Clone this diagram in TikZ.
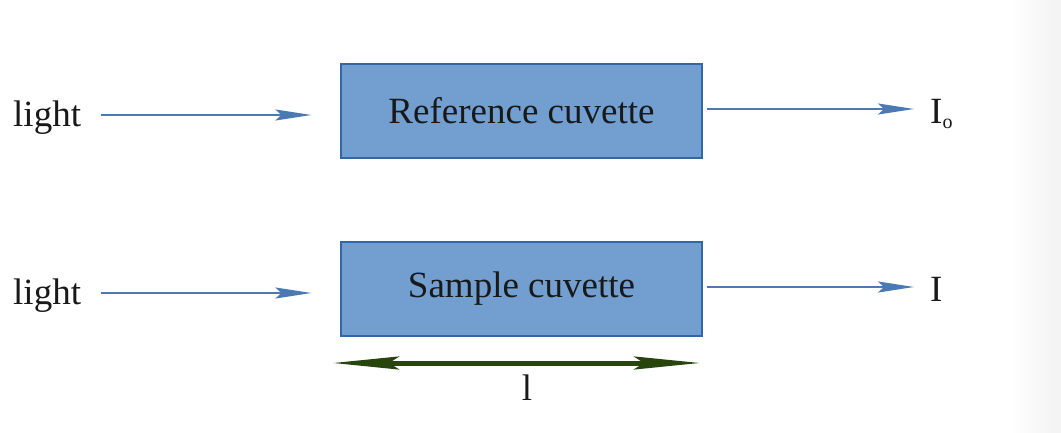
\documentclass[tikz,border=0pt]{standalone}
\usepackage{fontspec}
\setmainfont{Liberation Serif}
\usetikzlibrary{arrows.meta}
\definecolor{boxfill}{HTML}{729FCF}
\definecolor{boxline}{HTML}{3465A4}
\definecolor{arrblue}{HTML}{4A79B4}
\definecolor{lgreen}{HTML}{28450E}
\tikzset{
  box/.style={draw=boxline, line width=1.2pt, fill=boxfill, minimum width=361pt, minimum height=94pt, inner sep=0pt, font=\fontsize{37}{44}\selectfont, text=black!90},
  lbl/.style={inner sep=0pt, font=\fontsize{37}{44}\selectfont, text=black!90},
  beam/.style={draw=arrblue, line width=2pt, -{Stealth[length=36pt,width=11pt,inset=6pt]}},
  span/.style={draw=lgreen, line width=5pt, {Stealth[length=66pt,width=13pt,inset=10pt]}-{Stealth[length=66pt,width=13pt,inset=10pt]}}
}
\begin{document}
\begin{tikzpicture}[x=1pt,y=-1pt]
\useasboundingbox (0,0) rectangle (1061,433);
\shade[left color=white, right color=black!5] (1010,0) rectangle (1061,433);
\node[box] (ref) at (521.5,111) {Reference cuvette};
\node[box] (sam) at (521.5,289) {Sample cuvette};
\node[lbl, anchor=west] (l1) at (13,118) {light};
\node[lbl, anchor=west] (l2) at (13,296) {light};
\node[lbl, anchor=west] (i0) at (930,114) {I\raisebox{-0.35ex}{\fontsize{20}{24}\selectfont o}};
\node[lbl, anchor=west] (i1) at (930,289) {I};
\coordinate (sl) at (333,363);
\coordinate (sr) at (700,363);
\node[lbl] (len) at (527,388) {l};
\draw[beam, shorten <=20pt, shorten >=29pt] ([yshift=3pt]l1.east) -- ([yshift=3pt]l1.east -| ref.west);
\draw[beam, shorten <=20pt, shorten >=29pt] ([yshift=3pt]l2.east) -- ([yshift=3pt]l2.east -| sam.west);
\draw[beam, shorten <=4pt, shorten >=16pt] ([yshift=2pt]ref.east) -- ([yshift=2pt]ref.east -| i0.west);
\draw[beam, shorten <=4pt, shorten >=16pt] ([yshift=2pt]sam.east) -- ([yshift=2pt]sam.east -| i1.west);
\draw[span] (sl) -- (sr);
\end{tikzpicture}
\end{document}
